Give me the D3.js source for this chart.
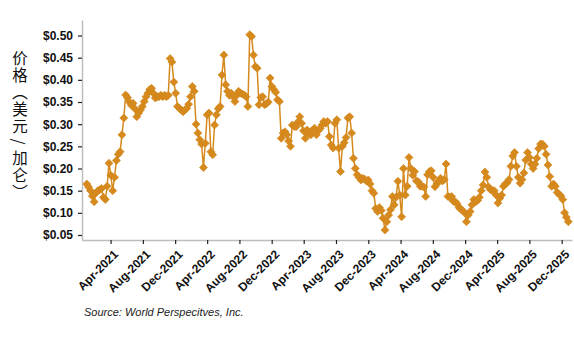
<!DOCTYPE html>
<html>
<head>
<meta charset="utf-8">
<script src="https://cdn.jsdelivr.net/npm/d3@7"></script>
<style>
  html, body { margin: 0; padding: 0; background: #fff; }
  svg { display: block; }
</style>
</head>
<body>
<svg id="chart" width="574" height="350"></svg>
<script>
// ---- Data (weekly prices, USD/gallon), first week starting 2021-01-01 ----
const startDate = "2021-01-01";
const prices2021 = [0.165,0.158,0.150,0.138,0.125,0.145,0.150,0.152,0.155,0.135,0.130,0.160,0.212,0.185,0.150,0.180,0.218,0.232,0.238,0.276,0.314,0.366,0.360,0.350,0.343,0.347,0.335,0.317,0.325,0.332,0.340,0.351,0.362,0.370,0.378,0.381,0.370,0.359,0.362,0.362,0.365,0.362,0.365,0.362,0.365,0.448,0.440,0.395,0.370,0.340,0.336,0.332,0.328];
const prices2022 = [0.332,0.336,0.345,0.362,0.385,0.374,0.300,0.280,0.265,0.255,0.202,0.257,0.321,0.325,0.238,0.231,0.298,0.321,0.335,0.340,0.411,0.456,0.389,0.374,0.365,0.370,0.362,0.351,0.365,0.374,0.370,0.368,0.366,0.362,0.340,0.502,0.498,0.456,0.430,0.426,0.344,0.360,0.362,0.344,0.346,0.350,0.404,0.385,0.378,0.372,0.355,0.351];
const prices2023 = [0.268,0.280,0.283,0.276,0.262,0.250,0.298,0.295,0.294,0.305,0.317,0.302,0.285,0.268,0.287,0.280,0.276,0.287,0.291,0.276,0.285,0.290,0.298,0.306,0.302,0.306,0.272,0.253,0.246,0.302,0.310,0.246,0.193,0.250,0.258,0.270,0.314,0.317,0.280,0.223,0.200,0.186,0.180,0.174,0.178,0.176,0.172,0.174,0.165,0.150,0.144,0.110];
const prices2024 = [0.103,0.112,0.105,0.088,0.061,0.080,0.095,0.107,0.137,0.118,0.135,0.171,0.140,0.091,0.200,0.140,0.160,0.225,0.200,0.185,0.193,0.172,0.170,0.160,0.160,0.158,0.137,0.186,0.193,0.195,0.180,0.159,0.165,0.172,0.178,0.172,0.175,0.210,0.137,0.135,0.137,0.126,0.125,0.120,0.112,0.108,0.105,0.100,0.080,0.095,0.103,0.118,0.130];
const prices2025 = [0.125,0.128,0.135,0.150,0.163,0.192,0.180,0.158,0.152,0.150,0.150,0.140,0.122,0.133,0.140,0.160,0.165,0.168,0.175,0.205,0.228,0.236,0.205,0.180,0.167,0.175,0.190,0.219,0.236,0.225,0.210,0.200,0.210,0.223,0.245,0.255,0.255,0.250,0.232,0.208,0.182,0.160,0.165,0.160,0.146,0.142,0.138,0.130,0.100,0.090,0.080];

const yTickValues = [0.05,0.10,0.15,0.20,0.25,0.30,0.35,0.40,0.45,0.50];
const xTickLabels = ["Apr-2021","Aug-2021","Dec-2021","Apr-2022","Aug-2022","Dec-2022","Apr-2023","Aug-2023","Dec-2023","Apr-2024","Aug-2024","Dec-2024","Apr-2025","Aug-2025","Dec-2025"];
const yAxisTitleParts = ["价格（美", "元/", "加仑）"];
const sourceText = "Source: World Perspecitves, Inc.";

// ---- Build table ----
const parseDay = d3.timeParse("%Y-%m-%d");
const parseMonth = d3.timeParse("%b-%Y");
const fmtMonth = d3.timeFormat("%b-%Y");
const allPrices = [].concat(prices2021, prices2022, prices2023, prices2024, prices2025);
const start = parseDay(startDate);
const data = allPrices.map((v, i) => ({ date: d3.timeDay.offset(start, 7 * i), value: v }));

// ---- Layout ----
const svg = d3.select("#chart");
const mLeft = 82, mRight = 572, mTop = 20, mBottom = 240;
const color = "#D68A1E";
const font = "'Liberation Sans', Arial, sans-serif";

const x = d3.scaleTime()
  .domain([parseDay("2020-12-14"), parseDay("2026-01-09")])
  .range([mLeft, mRight]);
const y = d3.scaleLinear()
  .domain([0.0387, 0.535])
  .range([mBottom, mTop]);

// Y axis
const yAxis = svg.append("g")
  .attr("transform", `translate(${mLeft},0)`)
  .call(d3.axisLeft(y).tickValues(yTickValues).tickFormat(d3.format("$.2f")).tickSize(4).tickSizeOuter(0).tickPadding(5));
yAxis.select(".domain").attr("stroke", "#bdbdbd").attr("stroke-width", 1.5);
yAxis.selectAll(".tick line").attr("stroke", "#222").attr("stroke-width", 1.2);
yAxis.selectAll(".tick text").attr("fill", "#111").attr("font-family", font).attr("font-size", 12).attr("font-weight", "bold");

// X axis
const xAxis = svg.append("g")
  .attr("transform", `translate(0,${mBottom})`)
  .call(d3.axisBottom(x).tickValues(xTickLabels.map(parseMonth)).tickFormat(fmtMonth).tickSize(4).tickSizeOuter(0));
xAxis.select(".domain").attr("stroke", "#bdbdbd").attr("stroke-width", 1.5);
xAxis.selectAll(".tick line").attr("stroke", "#222").attr("stroke-width", 1.2);
xAxis.selectAll(".tick text")
  .attr("fill", "#111").attr("font-family", font).attr("font-size", 12).attr("font-weight", "bold")
  .attr("text-anchor", "end")
  .attr("dx", "0").attr("dy", "0")
  .attr("transform", "translate(3,10) rotate(-45)");

// Line
svg.append("path")
  .datum(data)
  .attr("fill", "none")
  .attr("stroke", color)
  .attr("stroke-width", 1.5)
  .attr("d", d3.line().x(d => x(d.date)).y(d => y(d.value)));

// Markers (diamonds)
const sq = d3.symbol().type(d3.symbolSquare).size(32);
svg.append("g").selectAll("path")
  .data(data)
  .join("path")
  .attr("d", sq)
  .attr("fill", color)
  .attr("stroke", "#CF8418")
  .attr("stroke-width", 0.6)
  .attr("transform", d => `translate(${x(d.date)},${y(d.value)}) rotate(45)`);

// Y axis title (vertical)
const title = svg.append("text")
  .attr("x", 20).attr("y", 50)
  .attr("font-family", "'Noto Sans CJK SC', sans-serif")
  .attr("font-size", 15.5)
  .attr("fill", "#111")
  .style("writing-mode", "vertical-rl");
title.selectAll("tspan")
  .data(yAxisTitleParts)
  .join("tspan")
  .style("letter-spacing", (d, i) => i === 1 ? "5px" : "1.6px")
  .text(d => d);
// extra gap before the slash
title.select("tspan:nth-child(1)").style("letter-spacing", "1.6px");

// Source
svg.append("text")
  .attr("x", 84).attr("y", 316)
  .attr("font-family", font)
  .attr("font-size", 11)
  .attr("font-style", "italic")
  .attr("fill", "#222")
  .text(sourceText);
</script>
</body>
</html>
